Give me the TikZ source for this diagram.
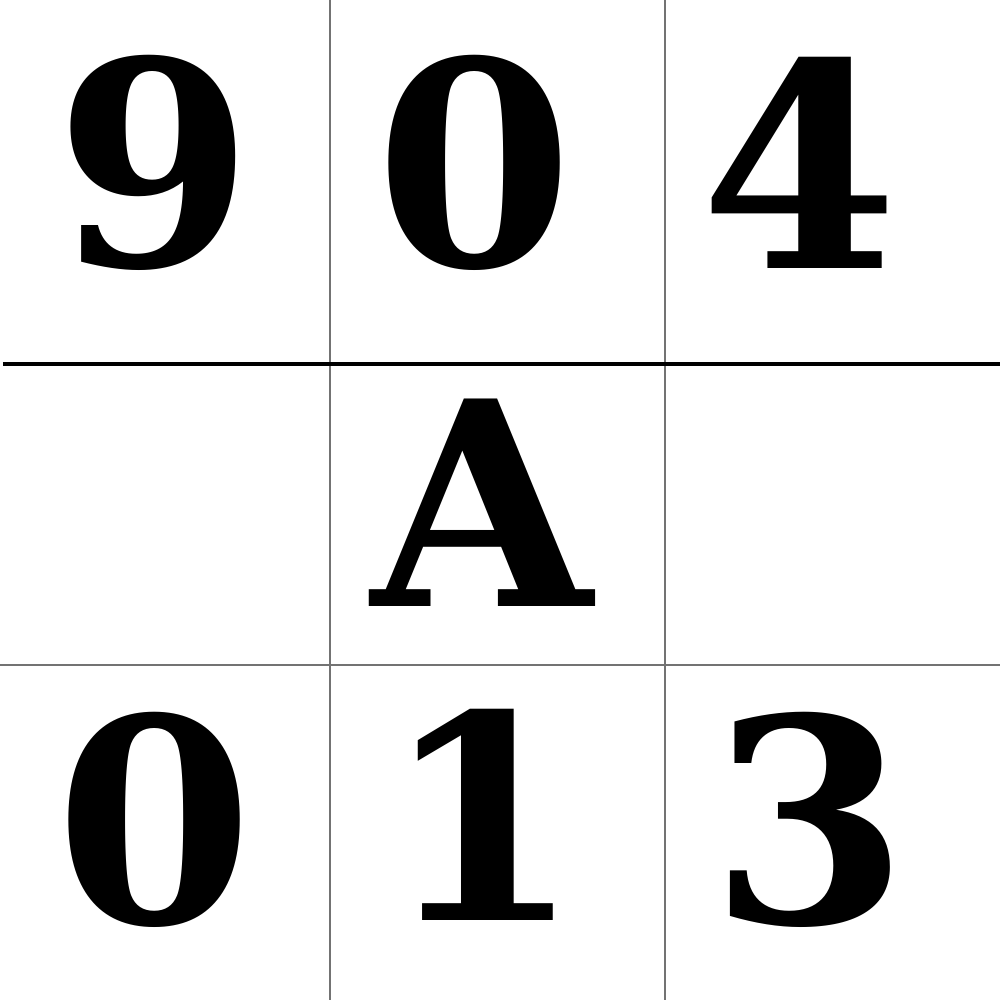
\documentclass[tikz,border=0pt]{standalone}
\usepackage{fontspec}
\setmainfont{DejaVu Serif}
\usetikzlibrary{positioning}
\tikzset{
	gridline/.style={draw=black!55, line width=0.6pt},
	boldline/.style={draw=black, line width=1.4pt},
	glyph/.style={inner sep=0pt, font=\fontsize{81}{81}\selectfont\bfseries}
}

\begin{document}
\begin{tikzpicture}
		
		\useasboundingbox (0,0) rectangle (10,10);
		
		% grid
		\coordinate (v1t) at (3.30,10); \coordinate (v1b) at (3.30,0);
		\coordinate (v2t) at (6.65,10); \coordinate (v2b) at (6.65,0);
		\coordinate (h1l) at (0.03,6.36); \coordinate (h1r) at (10,6.36);
		\coordinate (h2l) at (0,3.35); \coordinate (h2r) at (10,3.35);
		\draw[gridline] (v1t) -- (v1b);
		\draw[gridline] (v2t) -- (v2b);
		\draw[boldline] (h1l) -- (h1r);
		\draw[gridline] (h2l) -- (h2r);
		
		% characters
		\node[glyph] (nine) at (1.55,8.37) {9};
		\node[glyph] (zeroA) at (4.75,8.37) {0};
		\node[glyph] (four) at (8.00,8.37) {4};
		\node[glyph] (letterA) at (4.82,4.97) {A};
		\node[glyph] (zeroB) at (1.55,1.80) {0};
		\node[glyph] (one) at (4.83,1.85) {1};
		\node[glyph] (three) at (8.10,1.80) {3};
		
\end{tikzpicture}
\end{document}
